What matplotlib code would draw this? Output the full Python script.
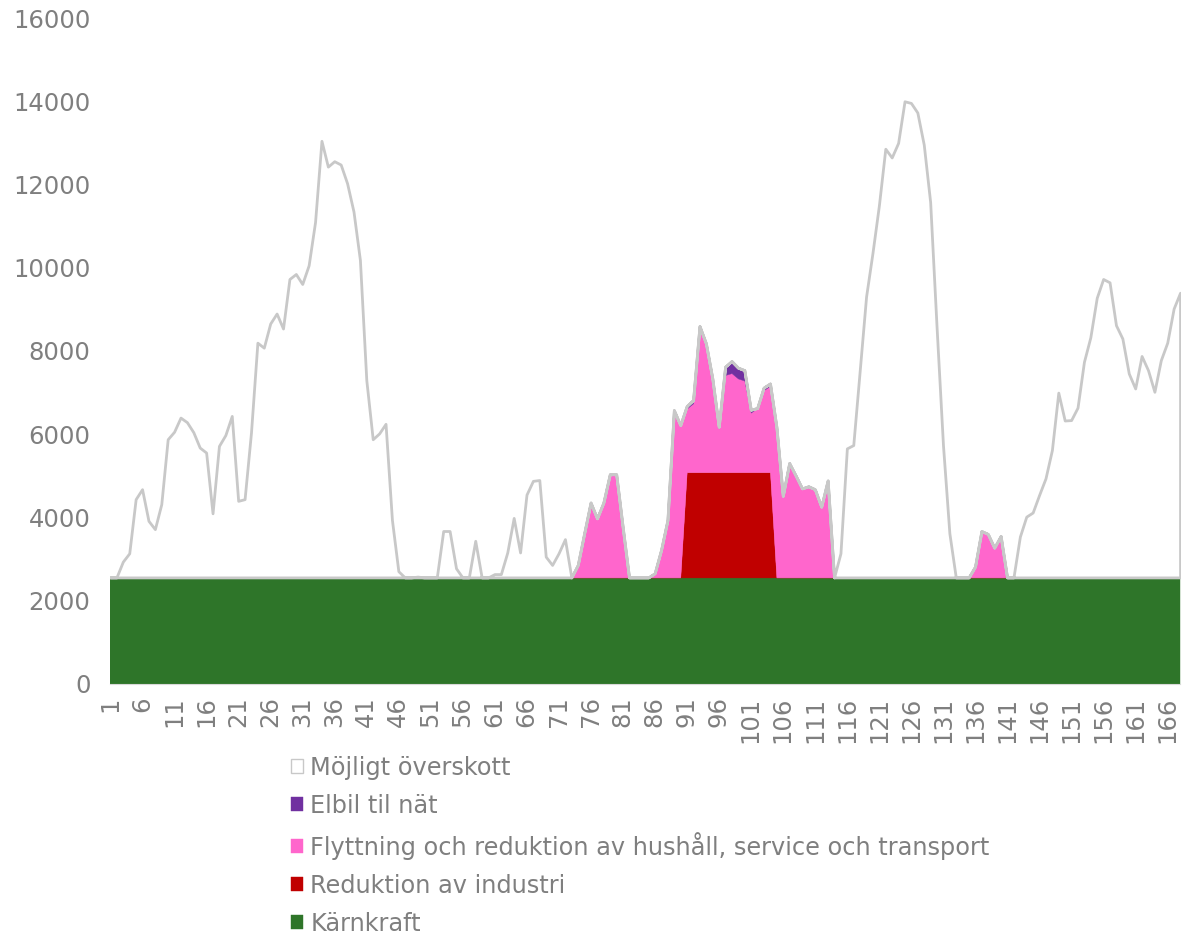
import numpy as np
import matplotlib
matplotlib.use("Agg")
import matplotlib.pyplot as plt

# --- data (MW per hour, 168 hours) --- #
hours = np.arange(1, 169)

karnkraft = [2560] * 168

industri = [0] * 90 + [2530] * 14 + [0] * 64

flyttning = ([0] * 73
             + [300, 1060, 1800, 1420, 1800, 2480, 2480, 1220]
             + [0] * 4
             + [100, 660, 1380, 4020, 3660, 1528, 1652, 3470, 3034, 2253,
                1051, 2333, 2379, 2250, 2200, 1430, 1540, 1970, 2070, 3620,
                1960, 2750, 2450, 2140, 2190, 2120, 1700, 2330]
             + [0] * 22
             + [260, 1115, 1045, 715, 995]
             + [0] * 28)

elbil = [0] * 90 + [60, 80, 40, 60, 0, 40, 200, 290, 260, 250, 70, 0, 60, 60] + [0] * 64

overskott = [
    0, 0, 380, 580, 1880, 2120, 1360, 1160, 1760, 3320, 3500, 3840,
    3730, 3490, 3120, 3000, 1540, 3160, 3420, 3880, 1840, 1880, 3480, 5640,
    5520, 6100, 6340, 5980, 7170, 7290, 7050, 7500, 8540, 10490, 9870, 10000,
    9920, 9470, 8790, 7630, 4740, 3320, 3460, 3690, 1380, 150, 0, 0,
    20, 0, 0, 0, 1115, 1115, 220, 0, 0, 880, 0, 0,
    80, 80, 600, 1430, 600, 1990, 2320, 2340, 500, 300, 580, 920,
    0, 0, 0, 0, 0, 0, 0, 0, 0, 0, 0, 0,
    0, 0, 0, 0, 0, 0, 0, 0, 0, 0, 0, 0,
    0, 0, 0, 0, 0, 0, 0, 0, 0, 0, 0, 0,
    0, 0, 0, 0, 0, 0, 580, 3100, 3180, 4960, 6750, 7800,
    8940, 10300, 10090, 10440, 11440, 11400, 11170, 10400, 9020, 6020, 3180, 1060,
    0, 0, 0, 0, 0, 0, 0, 0, 0, 0, 980, 1460,
    1560, 1980, 2380, 3060, 4440, 3770, 3780, 4080, 5180, 5770, 6720, 7170,
    7090, 6060, 5740, 4900, 4540, 5320, 4980, 4460, 5220, 5640, 6460, 6840,
]

labels = ["Kärnkraft", "Reduktion av industri",
          "Flyttning och reduktion av hushåll, service och transport",
          "Elbil til nät", "Möjligt överskott"]
colors = ["#2E7529", "#C00000", "#FF66CC", "#7030A0", "#FFFFFF"]

xtick_labels = [str(h) for h in range(1, 169, 5)]

# --- plot --- #
plt.rcParams["font.family"] = ["DejaVu Sans"]
text_gray = "#7F7F7F"

fig = plt.figure(figsize=(11.83, 9.34), dpi=100)
ax = fig.add_axes([0.093, 0.2677, 0.9045, 0.713])

polys = ax.stackplot(hours, karnkraft, industri, flyttning, elbil, overskott,
                     colors=colors, labels=labels, linewidth=0)
for p, c in zip(polys[:-1], colors[:-1]):
    p.set_edgecolor(c)
    p.set_linewidth(0.3)
polys[-1].set_edgecolor("#C8C8C8")
polys[-1].set_linewidth(2)

ax.set_xlim(1, 168)
ax.set_ylim(0, 16000)
ax.set_yticks(range(0, 16001, 2000))
ax.set_xticks(range(1, 169, 5))
ax.set_xticklabels(xtick_labels, rotation=90)

for s in ["top", "right", "left"]:
    ax.spines[s].set_visible(False)
ax.spines["bottom"].set_color("#D9D9D9")
ax.tick_params(axis="y", length=0, pad=14, labelsize=17.5, labelcolor=text_gray)
ax.tick_params(axis="x", length=0, pad=9, labelsize=17.5, labelcolor=text_gray)

handles, labs = ax.get_legend_handles_labels()
leg = fig.legend(handles[::-1], labs[::-1], loc="upper left",
                 bbox_to_anchor=(0.238, 0.201), frameon=False,
                 fontsize=17.3, labelcolor=text_gray,
                 handlelength=0.5, handleheight=0.5, handletextpad=0.3,
                 labelspacing=0.58, borderaxespad=0)
leg.legend_handles[0].set_linewidth(1)

fig.savefig("out.png", dpi=100)
